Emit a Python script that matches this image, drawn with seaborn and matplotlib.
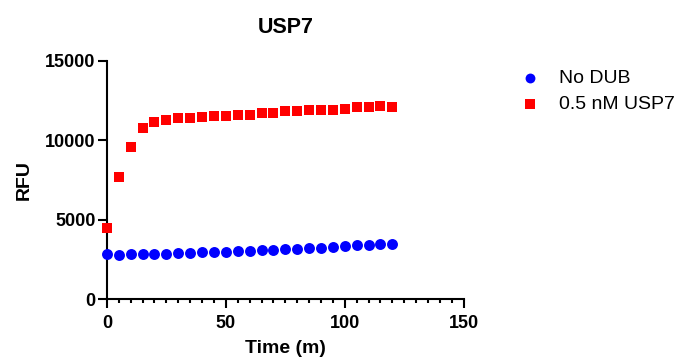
import matplotlib
matplotlib.use("Agg")
import matplotlib.pyplot as plt
from matplotlib.ticker import MultipleLocator
import seaborn as sns

# Data (time in minutes, RFU)
time_min = [0, 5, 10, 15, 20, 25, 30, 35, 40, 45, 50, 55, 60,
            65, 70, 75, 80, 85, 90, 95, 100, 105, 110, 115, 120]
no_dub = [2815, 2795, 2815, 2815, 2857, 2857, 2899, 2920, 2941, 2962, 2983, 3004, 3046,
          3067, 3088, 3130, 3151, 3193, 3235, 3298, 3319, 3382, 3424, 3466, 3487]
usp7 = [4450, 7710, 9560, 10775, 11130, 11260, 11385, 11425, 11450, 11510, 11550, 11595, 11615,
        11700, 11740, 11825, 11825, 11930, 11930, 11930, 11990, 12080, 12080, 12180, 12120]

series_labels = ["No DUB", "0.5 nM USP7"]

sns.set_theme(style="ticks")
plt.rcParams["font.family"] = ["Liberation Sans", "DejaVu Sans"]
plt.rcParams["text.color"] = "black"
plt.rcParams["axes.labelcolor"] = "black"

fig = plt.figure(figsize=(6.85, 3.6), dpi=100)
ax = fig.add_axes([0.156, 0.169, 0.521, 0.662])

sns.scatterplot(x=time_min, y=no_dub, marker="o", color="#0000ff", s=62,
                linewidth=0, label=series_labels[0], clip_on=False, ax=ax, zorder=3)
sns.scatterplot(x=time_min, y=usp7, marker="s", color="#ff0000", s=52,
                linewidth=0, label=series_labels[1], clip_on=False, ax=ax, zorder=3)

ax.set_xlim(0, 150)
ax.set_ylim(0, 15000)
ax.xaxis.set_major_locator(MultipleLocator(50))
ax.xaxis.set_minor_locator(MultipleLocator(5))
ax.yaxis.set_major_locator(MultipleLocator(5000))

for side in ["top", "right"]:
    ax.spines[side].set_visible(False)
for side in ["left", "bottom"]:
    ax.spines[side].set_linewidth(1.5)
    ax.spines[side].set_color("black")

ax.tick_params(axis="both", which="major", length=6.5, width=1.5, color="black",
               labelsize=13, labelcolor="black")
ax.tick_params(axis="x", which="major", pad=5)
ax.tick_params(axis="y", which="major", pad=1.5)
ax.tick_params(axis="x", which="minor", length=3, width=1.5, color="black")
for lbl in ax.get_xticklabels() + ax.get_yticklabels():
    lbl.set_fontweight("bold")

ax.set_xlabel("Time (m)", fontsize=14, fontweight="bold", labelpad=6)
ax.set_ylabel("RFU", fontsize=14, fontweight="bold", labelpad=9)
ax.set_title("USP7", fontsize=15.5, fontweight="bold", pad=20)

ax.legend(loc="upper left", bbox_to_anchor=(520 / 685, 1 - 69 / 360),
          bbox_transform=fig.transFigure, frameon=False, fontsize=14,
          borderpad=0, borderaxespad=0, handlelength=1.0, handletextpad=1.0,
          labelspacing=0.45, markerscale=0.9)

fig.savefig("out.png", dpi=100)
